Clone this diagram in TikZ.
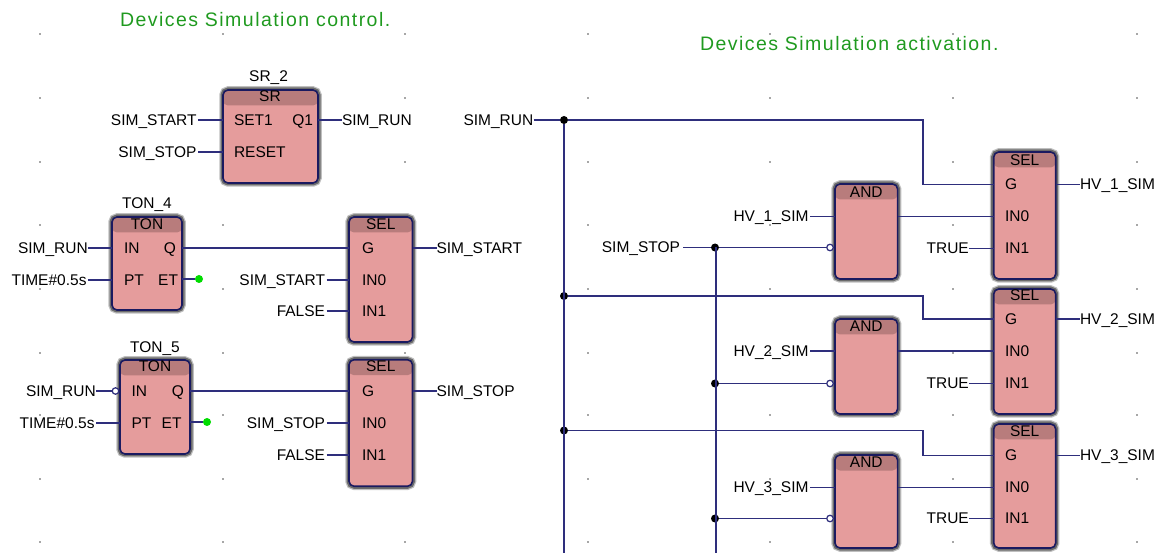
\documentclass[tikz,border=0pt]{standalone}
\usepackage{fontspec}
\usepackage{xcolor}
\usepackage{tikz}
\setmainfont{Liberation Sans}
\newfontfamily\titlefont[LetterSpace=7.5]{Liberation Sans}
\definecolor{wireC}{HTML}{2E2E7C}
\definecolor{edgeC}{HTML}{1A1A60}
\definecolor{bodyC}{HTML}{E59C9C}
\definecolor{headC}{HTML}{B87C7C}
\definecolor{noteC}{HTML}{1F9A1F}
\definecolor{probeC}{HTML}{00DC00}

\begin{document}
\begin{tikzpicture}[
  x=1pt,y=-1pt,
  font=\fontsize{15.5}{18}\selectfont,
  every node/.style={inner sep=0pt,outer sep=0pt},
  griddot/.style={fill=black!70},
  wire/.style={draw=wireC,line width=1.6pt},
  block/.style={rectangle,rounded corners=5pt,draw=edgeC,line width=1.6pt,fill=bodyC,
    preaction={draw=black!25,line width=7.5pt},
    preaction={draw=black!58,line width=5pt},
    path picture={\fill[headC] (path picture bounding box.north west) rectangle
      ([yshift=-15.5pt]path picture bounding box.north east);}},
  sig/.style={text height=12.5pt,text depth=2pt,inner xsep=1.5pt},
  sigin/.style={sig,anchor=east},
  sigtight/.style={sigin,inner xsep=0.2pt},
  sigout/.style={sig,anchor=west,inner xsep=0pt},
  pinl/.style={sig,anchor=west},
  pinr/.style={sig,anchor=east},
  head/.style={sig,anchor=center},
  note/.style={anchor=west,text=noteC,font=\titlefont\fontsize{19.5}{22}\selectfont},
  bubble/.style={circle,draw=wireC,line width=1.2pt,fill=white,minimum size=6.5pt},
  junct/.style={circle,fill=black,minimum size=8pt},
  probe/.style={circle,fill=probeC,minimum size=8pt}
]
\useasboundingbox (0,0) rectangle (1163,553);

% Grid
\foreach \gx in {40,223,405,588,770,953,1137}
  \foreach \gy in {34,98,162,225,289,353,415,479,542}
    \fill[griddot] (\gx,\gy) circle (0.8pt);

% Titles
\node[note] (noteCtl) at (120,20) {Devices Simulation control.};
\node[note] (noteAct) at (700,44) {Devices Simulation activation.};

% SR block
\node[block,minimum width=95pt,minimum height=93pt] (srA) at (270.5,136.5) {};
\node[head] (srAname) at (268.6,76) {SR\_2};
\node[head] (srAhead) at (270,96) {SR};
\node[pinl] (srAset) at (232.5,120) {SET1};
\node[pinl] (srAreset) at (232.5,152) {RESET};
\node[pinr] (srAq) at (314.5,120) {Q1};
\node[sigin] (inSetA) at (198,120) {SIM\_START};
\node[sigin] (inResetA) at (198,152) {SIM\_STOP};
\node[sigout] (outSrA) at (342,120) {SIM\_RUN};
\draw[wire] (inSetA.east) -- (inSetA.east -| srA.west);
\draw[wire] (inResetA.east) -- (inResetA.east -| srA.west);
\draw[wire] (srA.east |- outSrA.west) -- (outSrA.west);

% Upper timer and selector
\node[block,minimum width=70pt,minimum height=93pt] (tonA) at (147,263.5) {};
\node[head] (tonAname) at (147,203) {TON\_4};
\node[head] (tonAhead) at (147,224) {TON};
\node[pinl] (tonAin) at (122.5,248) {IN};
\node[pinl] (tonApt) at (122.5,280) {PT};
\node[pinr] (tonAq) at (177.5,248) {Q};
\node[pinr] (tonAet) at (179.5,280) {ET};
\node[sigtight] (inTonA) at (88,248) {SIM\_RUN};
\node[sigin] (ptTonA) at (88,280) {TIME\#0.5s};
\node[probe] (etTonA) at (199,279) {};
\draw[wire] (inTonA.east) -- (inTonA.east -| tonA.west);
\draw[wire] (ptTonA.east) -- (ptTonA.east -| tonA.west);
\draw[wire] (tonA.east |- etTonA) -- (etTonA);

\node[block,minimum width=63.5pt,minimum height=125pt] (selA) at (380.75,279.5) {};
\node[head] (selAhead) at (380.75,224) {SEL};
\node[pinl] (selAg) at (360.5,248) {G};
\node[pinl] (selAin0) at (360.5,280) {IN0};
\node[pinl] (selAin1) at (360.5,311) {IN1};
\node[sigin] (inSelA) at (326.5,280) {SIM\_START};
\node[sigin] (altSelA) at (326.5,311) {FALSE};
\node[sigout] (outSelA) at (436.5,248) {SIM\_START};
\draw[wire] (tonA.east |- selAg) -- (selA.west |- selAg);
\draw[wire] (inSelA.east) -- (inSelA.east -| selA.west);
\draw[wire] (altSelA.east) -- (altSelA.east -| selA.west);
\draw[wire] (selA.east |- outSelA.west) -- (outSelA.west);

% Lower timer and selector
\node[block,minimum width=70pt,minimum height=94pt] (tonB) at (155,407) {};
\node[head] (tonBname) at (155,347) {TON\_5};
\node[head] (tonBhead) at (155,366) {TON};
\node[pinl] (tonBin) at (130,391) {IN};
\node[pinl] (tonBpt) at (130,423) {PT};
\node[pinr] (tonBq) at (185.5,391) {Q};
\node[pinr] (tonBet) at (183,423) {ET};
\node[sigtight] (inTonB) at (96,391) {SIM\_RUN};
\node[sigin] (ptTonB) at (96,423) {TIME\#0.5s};
\node[bubble] (negTonB) at (115.5,391) {};
\node[probe] (etTonB) at (207,422) {};
\draw[wire] (inTonB.east) -- (negTonB.west);
\draw[wire] (ptTonB.east) -- (ptTonB.east -| tonB.west);
\draw[wire] (tonB.east |- etTonB) -- (etTonB);

\node[block,minimum width=63.5pt,minimum height=126.5pt] (selB) at (380.75,423) {};
\node[head] (selBhead) at (380.75,366) {SEL};
\node[pinl] (selBg) at (360.5,391) {G};
\node[pinl] (selBin0) at (360.5,423) {IN0};
\node[pinl] (selBin1) at (360.5,455) {IN1};
\node[sigin] (inSelB) at (326.5,423) {SIM\_STOP};
\node[sigin] (altSelB) at (326.5,455) {FALSE};
\node[sigout] (outSelB) at (436.5,391) {SIM\_STOP};
\draw[wire] (tonB.east |- selBg) -- (selB.west |- selBg);
\draw[wire] (inSelB.east) -- (inSelB.east -| selB.west);
\draw[wire] (altSelB.east) -- (altSelB.east -| selB.west);
\draw[wire] (selB.east |- outSelB.west) -- (outSelB.west);

% Activation rungs
\node[sigtight] (inRun) at (533.5,120) {SIM\_RUN};
\node[sigin,inner xsep=3pt] (inStop) at (683,247.5) {SIM\_STOP};
\node[junct] (jctRunA) at (564,120) {};
\node[junct] (jctRunB) at (564,296) {};
\node[junct] (jctRunC) at (564,430.5) {};
\node[junct] (jctStopA) at (715,247.5) {};
\node[junct] (jctStopB) at (715,383.5) {};
\node[junct] (jctStopC) at (715,518.5) {};
\coordinate (busRunEnd) at (564,553);
\coordinate (busStopEnd) at (716,553);
\coordinate (kneeA) at (923,120);
\coordinate (kneeB) at (923,296);
\coordinate (kneeC) at (923,430.5);
\draw[wire] (inRun.east) -- (jctRunA);
\draw[wire] (jctRunA) -- (busRunEnd);
\draw[wire] (inStop.east) -- (jctStopA);
\draw[wire] (jctStopA.center) ++(1,0) -- (busStopEnd);

% Rung 1
\node[block,minimum width=62.6pt,minimum height=95pt] (andA) at (866.3,231.5) {};
\node[head] (andAhead) at (866.3,192) {AND};
\node[sigin] (inAndA) at (810,216.5) {HV\_1\_SIM};
\node[bubble] (negAndA) at (830,247.5) {};
\node[block,minimum width=62pt,minimum height=127pt] (selC) at (1024.7,215.5) {};
\node[head] (selChead) at (1024.7,160) {SEL};
\node[pinl] (selCg) at (1003.5,184.5) {G};
\node[pinl] (selCin0) at (1003.5,216.5) {IN0};
\node[pinl] (selCin1) at (1003.5,248.5) {IN1};
\node[sigtight] (altSelC) at (969,248.5) {TRUE};
\node[sigout] (outSelC) at (1080,184.5) {HV\_1\_SIM};
\draw[wire] (inAndA.east) -- (inAndA.east -| andA.west);
\draw[wire] (jctStopA) -- (negAndA.west);
\draw[wire] (andA.east |- selCin0) -- (selC.west |- selCin0);
\draw[wire] (altSelC.east) -- (altSelC.east -| selC.west);
\draw[wire] (jctRunA) -- (kneeA) -- (kneeA |- selCg) -- (selC.west |- selCg);
\draw[wire] (selC.east |- outSelC.west) -- (outSelC.west);

% Rung 2
\node[block,minimum width=62.6pt,minimum height=95pt] (andB) at (866.3,366.5) {};
\node[head] (andBhead) at (866.3,326) {AND};
\node[sigin] (inAndB) at (810,351) {HV\_2\_SIM};
\node[bubble] (negAndB) at (830,383.5) {};
\node[block,minimum width=62pt,minimum height=125pt] (selD) at (1024.7,351.5) {};
\node[head] (selDhead) at (1024.7,295) {SEL};
\node[pinl] (selDg) at (1003.5,319) {G};
\node[pinl] (selDin0) at (1003.5,351) {IN0};
\node[pinl] (selDin1) at (1003.5,383.5) {IN1};
\node[sigtight] (altSelD) at (969,383.5) {TRUE};
\node[sigout] (outSelD) at (1080,319) {HV\_2\_SIM};
\draw[wire] (inAndB.east) -- (inAndB.east -| andB.west);
\draw[wire] (jctStopB) -- (negAndB.west);
\draw[wire] (andB.east |- selDin0) -- (selD.west |- selDin0);
\draw[wire] (altSelD.east) -- (altSelD.east -| selD.west);
\draw[wire] (jctRunB) -- (kneeB) -- (kneeB |- selDg) -- (selD.west |- selDg);
\draw[wire] (selD.east |- outSelD.west) -- (outSelD.west);

% Rung 3
\node[block,minimum width=62.6pt,minimum height=93pt] (andC) at (866.3,501.5) {};
\node[head] (andChead) at (866.3,462) {AND};
\node[sigin] (inAndC) at (810,487.5) {HV\_3\_SIM};
\node[bubble] (negAndC) at (830,518.5) {};
\node[block,minimum width=62pt,minimum height=124pt] (selE) at (1024.7,486) {};
\node[head] (selEhead) at (1024.7,431) {SEL};
\node[pinl] (selEg) at (1003.5,455.5) {G};
\node[pinl] (selEin0) at (1003.5,487.5) {IN0};
\node[pinl] (selEin1) at (1003.5,518.5) {IN1};
\node[sigtight] (altSelE) at (969,518.5) {TRUE};
\node[sigout] (outSelE) at (1080,455.5) {HV\_3\_SIM};
\draw[wire] (inAndC.east) -- (inAndC.east -| andC.west);
\draw[wire] (jctStopC) -- (negAndC.west);
\draw[wire] (andC.east |- selEin0) -- (selE.west |- selEin0);
\draw[wire] (altSelE.east) -- (altSelE.east -| selE.west);
\draw[wire] (jctRunC) -- (kneeC) -- (kneeC |- selEg) -- (selE.west |- selEg);
\draw[wire] (selE.east |- outSelE.west) -- (outSelE.west);
\end{tikzpicture}
\end{document}
